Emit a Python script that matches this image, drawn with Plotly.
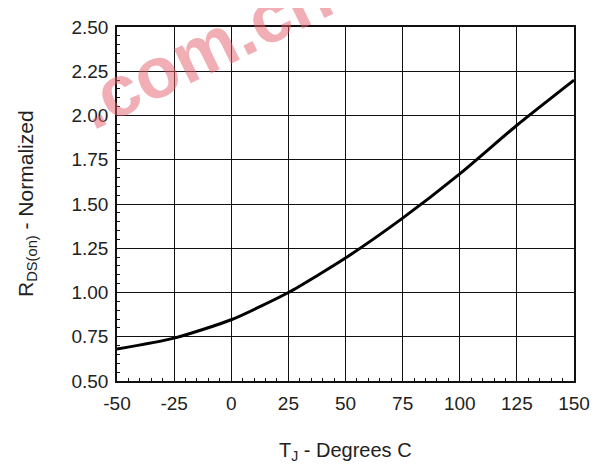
import plotly.graph_objects as go

temps_c = [-50, -25, 0, 25, 50, 75, 100, 125, 150]
rds_norm = [0.68, 0.742, 0.846, 1.0, 1.195, 1.42, 1.67, 1.945, 2.20]

x_ticks = [-50, -25, 0, 25, 50, 75, 100, 125, 150]
x_tick_text = [str(v) for v in x_ticks]
y_ticks = [0.50, 0.75, 1.00, 1.25, 1.50, 1.75, 2.00, 2.25, 2.50]
y_tick_text = [f"{v:.2f}" for v in y_ticks]

font_family = "Liberation Sans, Arial, sans-serif"

fig = go.Figure()
fig.add_trace(go.Scatter(
    x=temps_c, y=rds_norm, mode="lines",
    line=dict(color="#000000", width=3, shape="spline", smoothing=0.6),
    showlegend=False, hoverinfo="skip",
))

axis_common = dict(
    showgrid=True, gridcolor="#111111", gridwidth=1.3,
    showline=True, linecolor="#111111", linewidth=1.5, mirror=True,
    ticks="inside", ticklen=4, tickcolor="#111111",
    zeroline=False,
    tickfont=dict(family=font_family, size=19, color="#222222"),
)

fig.update_xaxes(
    range=[-50, 150], tickvals=x_ticks, ticktext=x_tick_text, ticklabelstandoff=4,
    minor=dict(dtick=5, ticks="inside", ticklen=3, tickcolor="#111111", showgrid=False),
    **axis_common,
)
fig.update_yaxes(
    range=[0.5, 2.5], tickvals=y_ticks, ticktext=y_tick_text, ticklabelstandoff=3,
    minor=dict(dtick=0.05, ticks="inside", ticklen=3, tickcolor="#111111", showgrid=False),
    **axis_common,
)

fig.add_annotation(
    text="T<sub>J</sub> - Degrees C", xref="paper", yref="paper", x=0.5, y=0,
    yshift=-70, xanchor="center", yanchor="middle", showarrow=False,
    font=dict(family=font_family, size=20, color="#222222"),
)
fig.add_annotation(
    text="R<sub>DS(on)</sub> - Normalized", xref="paper", yref="paper", x=0, y=0.5,
    xshift=-90, xanchor="center", yanchor="middle", showarrow=False, textangle=-90,
    font=dict(family=font_family, size=21, color="#222222"),
)
# watermark
fig.add_annotation(
    text=".com.cn", xref="paper", yref="paper", x=0.19, y=1.0, yshift=-22,
    xanchor="center", yanchor="middle", showarrow=False, textangle=-26,
    font=dict(family=font_family, size=72, color="rgba(228,95,108,0.5)", weight="bold"),
)

# page body has an 8px margin; size the figure so the plot area lands where the reference has it
fig.update_layout(
    width=591, height=460,
    margin=dict(l=109, r=18, t=9, b=87),
    paper_bgcolor="white", plot_bgcolor="white",
)

fig.write_html("out.html")
